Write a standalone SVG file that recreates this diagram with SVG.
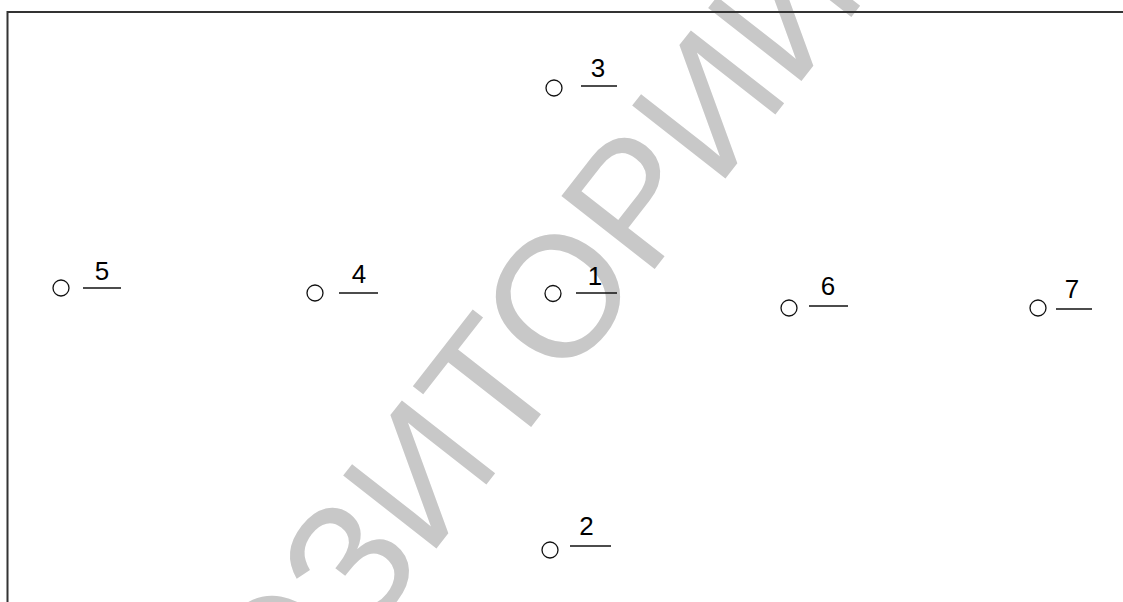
<svg xmlns="http://www.w3.org/2000/svg" width="1123" height="602" viewBox="0 0 1123 602">
<style>
.pin{fill:none;stroke:#111;stroke-width:1.3}
.ul{stroke:#111;stroke-width:1.5}
.lbl{font-family:"Liberation Sans",Arial,sans-serif;font-size:26px;fill:#000;text-anchor:middle}
.wm{font-family:"Liberation Sans",Arial,sans-serif;font-size:172px;fill:#c8c8c8}
</style>
<rect width="1123" height="602" fill="#fff"/>
<g id="watermark">
<text class="wm" transform="translate(64,1025) rotate(-52)">РЕПОЗИТОРИЙ</text>
</g>
<g id="frame" fill="none" stroke="#333" stroke-width="2">
<polyline points="1123,12 7.5,12 7.5,602"/>
</g>
<g id="connectors"></g>
<g id="n3"><circle class="pin" cx="554" cy="88" r="8"/><line class="ul" x1="581" y1="86" x2="617" y2="86"/><text class="lbl" x="598" y="77">3</text></g>
<g id="n5"><circle class="pin" cx="61" cy="288" r="8"/><line class="ul" x1="83" y1="288" x2="121" y2="288"/><text class="lbl" x="102" y="280">5</text></g>
<g id="n4"><circle class="pin" cx="315" cy="293" r="8"/><line class="ul" x1="339" y1="293" x2="378" y2="293"/><text class="lbl" x="359" y="283">4</text></g>
<g id="n1"><circle class="pin" cx="553" cy="293.5" r="8"/><line class="ul" x1="576" y1="293" x2="617" y2="293"/><text class="lbl" x="595" y="285">1</text></g>
<g id="n6"><circle class="pin" cx="789" cy="308" r="8"/><line class="ul" x1="809" y1="306" x2="848" y2="306"/><text class="lbl" x="828" y="295">6</text></g>
<g id="n7"><circle class="pin" cx="1038" cy="308" r="8"/><line class="ul" x1="1056" y1="309" x2="1092" y2="309"/><text class="lbl" x="1072" y="298">7</text></g>
<g id="n2"><circle class="pin" cx="550" cy="550" r="8"/><line class="ul" x1="570" y1="546" x2="611" y2="546"/><text class="lbl" x="586.5" y="535">2</text></g>
</svg>
